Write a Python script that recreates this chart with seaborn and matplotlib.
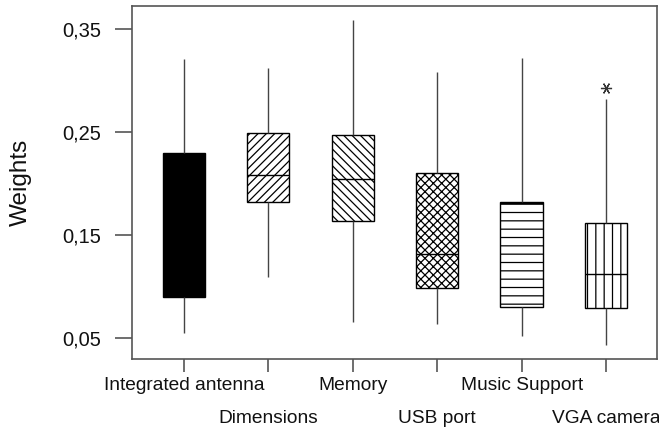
import numpy as np
import pandas as pd
import matplotlib
matplotlib.use("Agg")
import matplotlib.pyplot as plt
import seaborn as sns

# Data (box statistics per feature)
features = ["Integrated antenna", "Dimensions", "Memory", "USB port", "Music Support", "VGA camera"]
whisker_low = [0.0548, 0.1092, 0.0661, 0.0636, 0.0525, 0.0435]
q1 = [0.0898, 0.1819, 0.1638, 0.0985, 0.0807, 0.0791]
median = [0.1600, 0.2084, 0.2045, 0.1315, 0.1812, 0.1127]
q3 = [0.2294, 0.2491, 0.2469, 0.2100, 0.1819, 0.1615]
whisker_high = [0.3206, 0.3125, 0.3584, 0.3080, 0.3216, 0.2818]
outliers = [None, None, None, None, None, 0.2925]

yticks = [0.05, 0.15, 0.25, 0.35]
ytick_labels = ["0,05", "0,15", "0,25", "0,35"]
hatches = [None, "////", "\\\\\\\\", "xxxx", "--", "||"]
fills = ["black", "white", "white", "white", "white", "white"]

# Build long-form table: 9 values per feature so that quartiles match exactly
rows = []
for i, f in enumerate(features):
    extra = outliers[i] if outliers[i] is not None else whisker_high[i]
    vals = [whisker_low[i], q1[i], q1[i], median[i], median[i], q3[i], q3[i], whisker_high[i], extra]
    for v in vals:
        rows.append({"feature": f, "weight": v})
df = pd.DataFrame(rows)

sns.set_theme(style="white")
plt.rcParams["font.family"] = ["Liberation Sans", "DejaVu Sans"]
plt.rcParams["hatch.linewidth"] = 0.9

fig = plt.figure(figsize=(6.59, 4.37), dpi=100)
ax = fig.add_axes([0.2008, 0.1778, 0.7957, 0.8092])

sns.boxplot(
    data=df, x="feature", y="weight", hue="feature", order=features, hue_order=features,
    palette=dict(zip(features, fills)), legend=False, width=0.5, dodge=False,
    linecolor="black", linewidth=1.0, showcaps=False, whis=1.5,
    whiskerprops=dict(color="#444444", linewidth=1.0),
    medianprops=dict(color="black", linewidth=1.0),
    flierprops=dict(marker=(6, 2, 90), markersize=8, markeredgecolor="#333333",
                    markeredgewidth=0.9, linestyle="none"),
    saturation=1, ax=ax,
)

for p, h, f in zip(ax.patches, hatches, fills):
    p.set_facecolor(f)
    p.set_edgecolor("black")
    if h:
        p.set_hatch(h)

ax.set_xlim(-0.61, 5.60)
ax.set_ylim(0.0296, 0.3726)
ax.set_yticks(yticks)
ax.set_yticklabels(ytick_labels, fontsize=14.5, color="#111111")
ax.set_xticks(range(len(features)))
ax.set_xticklabels(features, fontsize=13.8, color="#111111")
ax.set_xlabel("")
ax.set_ylabel("Weights", fontsize=17.5, color="#111111", labelpad=22)

for s in ax.spines.values():
    s.set_visible(True)
    s.set_color("#555555")
    s.set_linewidth(1.2)

ax.tick_params(axis="y", which="major", left=True, length=12.5, width=1.2, color="#555555", pad=10)
ax.tick_params(axis="x", which="major", bottom=True, length=9.5, width=1.2, color="#555555", pad=3.5)
for i, t in enumerate(ax.xaxis.get_major_ticks()):
    if i % 2 == 1:
        t.set_pad(27)

fig.savefig("out.png", dpi=100)
